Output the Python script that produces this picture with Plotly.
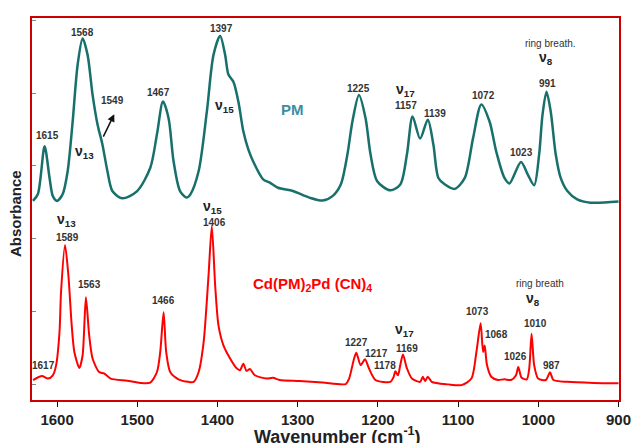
import plotly.graph_objects as go

# ---- data (wavenumber cm-1, absorbance arb. units) ----
pm_wn = [1630.1, 1623.9, 1615.6, 1609.4, 1605.3, 1600.0, 1593.0, 1586.8, 1580.6, 1574.4,
         1568.2, 1562.0, 1555.8, 1549.6, 1543.5, 1537.3, 1531.1, 1518.7, 1500.2, 1483.8,
         1475.5, 1468.0, 1461.0, 1454.8, 1446.7, 1438.4, 1433.8, 1423.5, 1413.3, 1405.0,
         1396.7, 1390.5, 1386.4, 1380.2, 1374.0, 1367.8, 1361.7, 1355.5, 1343.1, 1334.8,
         1324.6, 1306.0, 1285.4, 1268.9, 1256.6, 1246.3, 1238.0, 1231.8, 1223.6, 1215.4,
         1209.2, 1200.9, 1184.5, 1172.1, 1163.8, 1156.8, 1147.4, 1137.8, 1130.8, 1124.6,
         1116.4, 1104.1, 1091.7, 1081.3, 1071.1, 1060.8, 1052.5, 1042.2, 1036.0, 1021.6,
         1013.3, 1005.2, 999.0, 994.8, 989.8, 984.5, 978.3, 972.1, 963.8, 951.5,
         935.0, 900.0]
pm_abs = [0.504, 0.523, 0.654, 0.567, 0.517, 0.504, 0.523, 0.586, 0.722, 0.878,
          0.950, 0.905, 0.796, 0.714, 0.659, 0.586, 0.531, 0.511, 0.531, 0.595,
          0.687, 0.777, 0.731, 0.613, 0.531, 0.513, 0.522, 0.586, 0.749, 0.905,
          0.957, 0.905, 0.851, 0.831, 0.777, 0.695, 0.646, 0.612, 0.563, 0.554,
          0.540, 0.531, 0.513, 0.505, 0.517, 0.549, 0.632, 0.722, 0.795, 0.731,
          0.632, 0.558, 0.533, 0.549, 0.632, 0.736, 0.675, 0.727, 0.658, 0.567,
          0.549, 0.537, 0.567, 0.677, 0.769, 0.722, 0.640, 0.567, 0.552, 0.611,
          0.577, 0.547, 0.631, 0.740, 0.804, 0.749, 0.632, 0.567, 0.531, 0.508,
          0.499, 0.502]

cd_wn = [1630.0, 1618.9, 1611.5, 1605.3, 1601.2, 1597.0, 1595.1, 1590.1, 1585.9, 1581.8,
         1578.5, 1572.3, 1568.2, 1564.1, 1560.0, 1555.8, 1547.6, 1541.4, 1533.2, 1512.6,
         1496.1, 1483.8, 1475.5, 1471.4, 1467.2, 1464.0, 1459.0, 1448.6, 1436.3, 1429.7,
         1423.5, 1417.3, 1411.2, 1407.1, 1402.9, 1398.8, 1392.6, 1384.3, 1376.1, 1371.9,
         1367.8, 1363.8, 1359.6, 1353.4, 1339.0, 1330.8, 1322.5, 1297.8, 1268.9, 1240.1,
         1235.9, 1229.7, 1226.9, 1221.6, 1216.1, 1211.2, 1203.0, 1184.5, 1180.3, 1178.3,
         1175.0, 1172.1, 1168.8, 1163.8, 1157.6, 1147.4, 1144.0, 1141.2, 1137.8, 1132.9,
         1112.2, 1095.8, 1083.4, 1077.2, 1071.9, 1068.9, 1066.9, 1064.0, 1058.7, 1050.4,
         1042.2, 1034.0, 1027.8, 1025.0, 1020.8, 1014.3, 1011.3, 1008.4, 1005.2, 1000.2,
         990.7, 985.4, 981.2, 963.9, 931.0, 900.0]
cd_abs = [0.012, 0.023, 0.016, 0.025, 0.053, 0.144, 0.253, 0.383, 0.299, 0.162,
          0.089, 0.045, 0.080, 0.239, 0.135, 0.071, 0.034, 0.030, 0.016, 0.010,
          0.004, 0.005, 0.034, 0.089, 0.198, 0.089, 0.034, 0.014, 0.007, 0.007,
          0.034, 0.116, 0.299, 0.435, 0.271, 0.162, 0.107, 0.071, 0.044, 0.039,
          0.057, 0.037, 0.042, 0.025, 0.016, 0.018, 0.012, 0.009, 0.005, 0.001,
          0.016, 0.071, 0.087, 0.053, 0.069, 0.044, 0.012, 0.007, 0.021, 0.036,
          0.025, 0.053, 0.082, 0.044, 0.016, 0.007, 0.021, 0.009, 0.021, 0.007,
          0.000, -0.002, 0.016, 0.089, 0.168, 0.089, 0.107, 0.053, 0.021, 0.012,
          0.014, 0.012, 0.025, 0.048, 0.018, 0.014, 0.044, 0.139, 0.053, 0.016,
          0.012, 0.033, 0.012, 0.007, 0.004, 0.003]

x_ticks = [1600, 1500, 1400, 1300, 1200, 1100, 1000, 900]

# ---- layout geometry (page pixels of the 639x443 window) ----
OFF = 8                      # default body margin of the html page
W, H = 639 - OFF, 443 - OFF  # figure size so it ends at the window edge
L, R, T, B = 32, 624, 16, 400  # plot area in page pixels


def PX(px):
    return (px - L) / (R - L)


def PY(py):
    return (B - py) / (B - T)


FONT = "Arial, Liberation Sans, sans-serif"
LBL = dict(family=FONT, size=10, color="#333333")
NU = dict(family=FONT, size=14, color="#222222")

fig = go.Figure()
fig.add_trace(go.Scatter(x=pm_wn, y=pm_abs, mode="lines",
                         line=dict(color="#17706B", width=2.5, shape="spline", smoothing=0.8),
                         showlegend=False, hoverinfo="skip"))
fig.add_trace(go.Scatter(x=cd_wn, y=cd_abs, mode="lines",
                         line=dict(color="#FF0000", width=2, shape="spline", smoothing=0.7),
                         showlegend=False, hoverinfo="skip"))

ann = []


def txt(px, py, s, font, bold=True):
    ann.append(dict(x=PX(px), y=PY(py), xref="paper", yref="paper",
                    text=("<b>%s</b>" % s) if bold else s, showarrow=False,
                    font=font, xanchor="center", yanchor="middle"))


# PM labels
for px, py, s in [(47.7, 134.3, "1615"), (83.3, 31, "1568"), (113.3, 99, "1549"),
                  (159.3, 90.7, "1467"), (222.7, 26.7, "1397"), (361.7, 87.3, "1225"),
                  (409.3, 104, "1157"), (438.3, 111.7, "1139"), (487.3, 94.3, "1072"),
                  (525.7, 151, "1023"), (551.7, 81.7, "991")]:
    txt(px, py, s, LBL)
txt(555, 41.7, "ring breath.", LBL, bold=False)
for px, py, s in [(85, 151, "ν<sub>13</sub>"), (226, 104.7, "ν<sub>15</sub>"),
                  (408.3, 88, "ν<sub>17</sub>"), (550, 56.3, "ν<sub>8</sub>")]:
    txt(px, py, s, NU)
txt(295, 108.3, "PM", dict(family=FONT, size=15, color="#3A8EA5"))

# Cd(PM)2Pd(CN)4 labels
for px, py, s in [(67.7, 236.7, "1589"), (90, 284, "1563"), (43.3, 365.7, "1617"),
                  (164.3, 300, "1466"), (216, 222, "1406"), (359.3, 342.3, "1227"),
                  (379.3, 353.3, "1217"), (388.3, 365.7, "1178"), (410, 348.3, "1169"),
                  (481, 310.7, "1073"), (500, 334.3, "1068"), (519.3, 356.7, "1026"),
                  (540, 323.3, "1010"), (555.7, 365, "987")]:
    txt(px, py, s, LBL)
txt(544, 282.7, "ring breath", LBL, bold=False)
for px, py, s in [(67, 219, "ν<sub>13</sub>"), (214, 206.3, "ν<sub>15</sub>"),
                  (407.3, 329.7, "ν<sub>17</sub>"), (537.5, 298, "ν<sub>8</sub>")]:
    txt(px, py, s, NU)
txt(314.5, 284, "Cd(PM)<sub>2</sub>Pd (CN)<sub>4</sub>", dict(family=FONT, size=15, color="#FF0000"))

# arrow 1549
ann.append(dict(x=PX(115), y=PY(112.7), xref="paper", yref="paper", text="",
                showarrow=True, arrowhead=2, arrowsize=1, arrowwidth=1.5, arrowcolor="#111111",
                ax=103.3 - 115, ay=136.7 - 112.7))

# axis titles
ann.append(dict(x=PX(340), y=PY(436), xref="paper", yref="paper",
                text="<b>Wavenumber (cm<sup>-1</sup>)</b>", showarrow=False,
                font=dict(family=FONT, size=18, color="#222222"),
                xanchor="center", yanchor="middle"))
ann.append(dict(x=PX(16), y=PY(213), xref="paper", yref="paper",
                text="<b>Absorbance</b>", showarrow=False, textangle=-90,
                font=dict(family=FONT, size=15, color="#222222"),
                xanchor="center", yanchor="middle"))

y0 = -0.0429
y1 = 1.0063
fig.update_layout(
    width=W, height=H,
    margin=dict(l=L - OFF, r=639 - R, t=T - OFF, b=443 - B, pad=0),
    paper_bgcolor="white", plot_bgcolor="white",
    annotations=ann,
    xaxis=dict(range=[1631.3, 899.4], tickvals=x_ticks,
               ticktext=["<b>%d</b>" % v for v in x_ticks],
               tickfont=dict(family=FONT, size=15, color="#222222"),
               ticks="outside", ticklen=5, tickcolor="#111111", tickwidth=1,
               showline=True, linecolor="#CC0000", linewidth=2, mirror=True,
               showgrid=False, zeroline=False),
    yaxis=dict(range=[y0, y1], tickvals=[0, 0.2, 0.4, 0.6, 0.8, 1.0], showticklabels=False,
               ticks="inside", ticklen=4, tickcolor="#888888", tickwidth=1,
               showline=True, linecolor="#CC0000", linewidth=2, mirror=True,
               showgrid=False, zeroline=False),
)

fig.write_html("out.html")
